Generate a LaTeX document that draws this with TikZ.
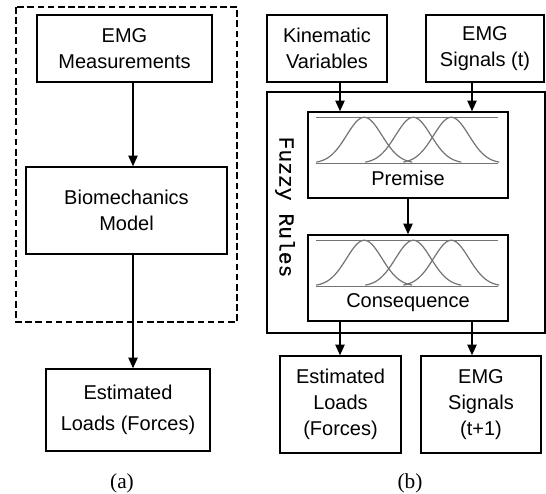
\documentclass[tikz,border=0pt]{standalone}
\usepackage{fontspec}
\setmainfont{Liberation Serif}
\setsansfont{Liberation Sans}
\setmonofont{Liberation Mono}
\newfontfamily\rulesfont[FakeBold=0.3]{Liberation Mono}
\usetikzlibrary{arrows.meta,calc}

% three overlapping membership bells, drawn from the box's north west corner
\newcommand{\bellrow}{%
  \draw[bell] (9,6) -- (191,6);
  \draw[bell] (9,52) -- (191,52);
  \foreach \c in {57,106,144}
    \draw[bell] plot[domain=\c-48:\c+48, samples=50, smooth]
      (\x, {52-46*exp(-((\x-\c)/25)*((\x-\c)/25))});
}

\begin{document}
\begin{tikzpicture}[x=0.75pt, y=-0.75pt,
    box/.style={rectangle, draw, line width=1.1pt, align=center, inner sep=0pt,
      font=\sffamily\fontsize{15}{19.5}\selectfont},
    flow/.style={-{Triangle[length=8pt, width=7pt]}, line width=1pt},
    bell/.style={black!55, line width=0.9pt},
    caption/.style={font=\fontsize{16}{18}\selectfont}]
  \useasboundingbox (0,0) rectangle (546,493);

  % (a) Boxes
  \draw[line width=1pt, dash pattern=on 5pt off 2.6pt] (16,7) rectangle (237,322);
  \node (meas) [box, minimum width=131.25pt, minimum height=50.25pt] at (124.5,48.5) {EMG\\Measurements};
  \node (bio) [box, minimum width=150.75pt, minimum height=65.25pt] at (126.5,210.5) {Biomechanics\\Model};
  \node (loadsa) [box, minimum width=123pt, minimum height=61.5pt] at (128,410) {Estimated\\[4pt]Loads (Forces)};

  % (b) Boxes
  \node (kin) [box, minimum width=90pt, minimum height=50.25pt] at (327,48.5) {Kinematic\\Variables};
  \node (emgt) [box, minimum width=88.5pt, minimum height=50.25pt] at (485,48.5) {EMG\\Signals (t)};
  \node (rules) [box, minimum width=208.5pt, minimum height=180.75pt] at (406,212.5) {};
  \node (rulestxt) [rotate=-90, font=\rulesfont\fontsize{16}{18}\selectfont] at (285,207) {Fuzzy Rules};
  \node (prem) [box, minimum width=150pt, minimum height=64.5pt] at (408,155) {};
  \node (cons) [box, minimum width=150pt, minimum height=64.5pt] at (408,278) {};
  \node (premtxt) [anchor=base, font=\sffamily\fontsize{15}{18}\selectfont] at ($(prem.south)+(0,-13)$) {Premise};
  \node (constxt) [anchor=base, font=\sffamily\fontsize{15}{18}\selectfont] at ($(cons.south)+(0,-14)$) {Consequence};
  \node (loadsb) [box, minimum width=90.75pt, minimum height=72.75pt] at (340.5,404.5) {Estimated\\Loads\\(Forces)};
  \node (emgn) [box, minimum width=90pt, minimum height=72.75pt] at (481,404.5) {EMG\\Signals\\(t+1)};

  % Membership functions
  \begin{scope}[shift={(prem.north west)}]
    \bellrow
  \end{scope}
  \begin{scope}[shift={(cons.north west)}]
    \bellrow
  \end{scope}

  % Arrow columns
  \coordinate (colA) at (133,0);
  \coordinate (colK) at (340,0);
  \coordinate (colP) at (408,0);
  \coordinate (colE) at (472,0);

  % Arrows
  \draw[flow] (meas.south -| colA) -- (bio.north -| colA);
  \draw[flow] (bio.south -| colA) -- (loadsa.north -| colA);
  \draw[flow] (kin.south -| colK) -- (prem.north -| colK);
  \draw[flow] (emgt.south -| colE) -- (prem.north -| colE);
  \draw[flow] (prem.south -| colP) -- (cons.north -| colP);
  \draw[flow] (cons.south -| colK) -- (loadsb.north -| colK);
  \draw[flow] (cons.south -| colE) -- (emgn.north -| colE);

  % Captions
  \node (capa) [caption] at (122,483) {(a)};
  \node (capb) [caption] at (410,483) {(b)};
\end{tikzpicture}
\end{document}
